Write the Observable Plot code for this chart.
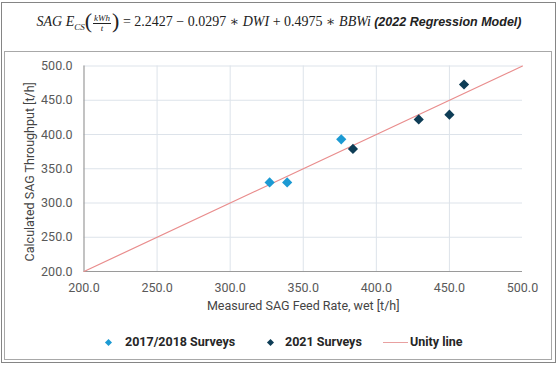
<!DOCTYPE html>
<html>
<head>
<meta charset="utf-8">
<script src="https://cdn.jsdelivr.net/npm/d3@7"></script>
<script src="https://cdn.jsdelivr.net/npm/@observablehq/plot@0.6"></script>
<style>
  html, body { margin: 0; padding: 0; background: #fff; }
  #wrap { position: relative; width: 558px; height: 366px; overflow: hidden; font-family: Roboto, "Liberation Sans", sans-serif; }
  #outer { position: absolute; left: 1px; top: 2px; width: 555px; height: 361px; box-sizing: border-box; border: 1px solid #858585; }
  #inner { position: absolute; left: 4px; top: 51px; width: 548px; height: 309px; box-sizing: border-box; border: 1px solid #a8a8a8; }
  #formula { position: absolute; left: 0; top: 10px; width: 558px; text-align: center; font-size: 13px; color: #222; white-space: nowrap; }
  .m { font-family: "Liberation Serif", "DejaVu Serif", serif; font-style: italic; font-size: 14px; }
  .mr { font-family: "Liberation Serif", "DejaVu Serif", serif; font-size: 14px; }
  .frac { display: inline-flex; flex-direction: column; vertical-align: middle; align-items: center; font-size: 9px; line-height: 9px; margin: 0 1px; }
  .frac .num { border-bottom: 1px solid #222; padding: 0 1px; }
  .par { font-size: 22px; font-family: "Liberation Serif", serif; vertical-align: middle; position: relative; top: -2px; }
  .bold { font-family: "Liberation Sans", Arial, sans-serif; font-weight: bold; font-style: italic; font-size: 12.5px; }
  #chart { position: absolute; left: 0; top: 50px; }
  .leg { position: absolute; top: 334px; font-size: 12.5px; font-weight: bold; color: #262626; line-height: 16px; white-space: nowrap; }
  .dia { position: absolute; width: 5px; height: 5px; transform: rotate(45deg); }
  .lline { position: absolute; height: 1.5px; background: #e8a0a0; }
</style>
</head>
<body>
<div id="wrap">
  <div id="outer"></div>
  <div id="inner"></div>
  <div id="formula"><span class="m">SAG E<sub style="font-size:9px">CS</sub></span><span class="par">(</span><span class="frac m"><span class="num">kWh</span><span>t</span></span><span class="par">)</span><span class="mr"> = 2.2427 − 0.0297 ∗ </span><span class="m">DWI</span><span class="mr"> + 0.4975 ∗ </span><span class="m">BBWi</span> <span class="bold">(2022 Regression Model)</span></div>
  <div id="chart"></div>
  <div class="dia" style="left:106px; top:339.5px; background:#1c9ad3;"></div>
  <div class="leg" style="left:125px;">2017/2018 Surveys</div>
  <div class="dia" style="left:268px; top:339.5px; background:#0e3d56;"></div>
  <div class="leg" style="left:285px;">2021 Surveys</div>
  <div class="lline" style="left:383px; width:25px; top:341.5px;"></div>
  <div class="leg" style="left:410px;">Unity line</div>
</div>
<script>
// Data
const measured1718 = [327, 339, 376];
const calculated1718 = [330, 330, 393];
const measured2021 = [384, 429, 450, 460];
const calculated2021 = [379, 422, 429, 473];
const unityLine = [200, 500];
const axisTicks = [200, 250, 300, 350, 400, 450, 500];
const xLabel = "Measured SAG Feed Rate, wet [t/h]";
const yLabel = "Calculated SAG Throughput [t/h]";

const pts1718 = measured1718.map((x, i) => ({x, y: calculated1718[i]}));
const pts2021 = measured2021.map((x, i) => ({x, y: calculated2021[i]}));
const unity = unityLine.map(v => ({x: v, y: v}));

const fmt = d => d.toFixed(1);

const chart = Plot.plot({
  width: 558,
  height: 270,
  marginLeft: 83.5,
  marginRight: 36,
  marginTop: 15.5,
  marginBottom: 49,
  style: {fontFamily: "Roboto, 'Liberation Sans', sans-serif", fontSize: "12.5px", color: "#595959", background: "transparent", overflow: "visible"},
  x: {domain: [200, 500], ticks: axisTicks, tickFormat: fmt, tickSize: 0, tickPadding: 12, label: null},
  y: {domain: [200, 500], ticks: axisTicks, tickFormat: fmt, tickSize: 0, tickPadding: 11.5, label: null},
  marks: [
    Plot.ruleX(axisTicks.slice(1, -1), {stroke: "#dde3ea", strokeWidth: 1}),
    Plot.ruleY(axisTicks.slice(1), {stroke: "#dde3ea", strokeWidth: 1}),
    Plot.ruleX([200], {stroke: "#9a9a9a", strokeWidth: 1.2}),
    Plot.ruleY([200], {stroke: "#9a9a9a", strokeWidth: 1.2}),
    Plot.line(unity, {x: "x", y: "y", stroke: "#e98d8d", strokeWidth: 1.2}),
    Plot.dot(pts1718, {x: "x", y: "y", symbol: "diamond2", r: 4.6, fill: "#1c9ad3", stroke: "none"}),
    Plot.dot(pts2021, {x: "x", y: "y", symbol: "diamond2", r: 4.6, fill: "#0e3d56", stroke: "none"}),
    Plot.text([xLabel], {text: d => d, frameAnchor: "bottom", dy: 38, fontSize: 12.5, fill: "#444"}),
    Plot.text([yLabel], {text: d => d, frameAnchor: "left", textAnchor: "middle", dx: -54.5, dy: 3, rotate: -90, fontSize: 12.5, fill: "#444"})
  ]
});
document.getElementById("chart").appendChild(chart);
</script>
</body>
</html>
